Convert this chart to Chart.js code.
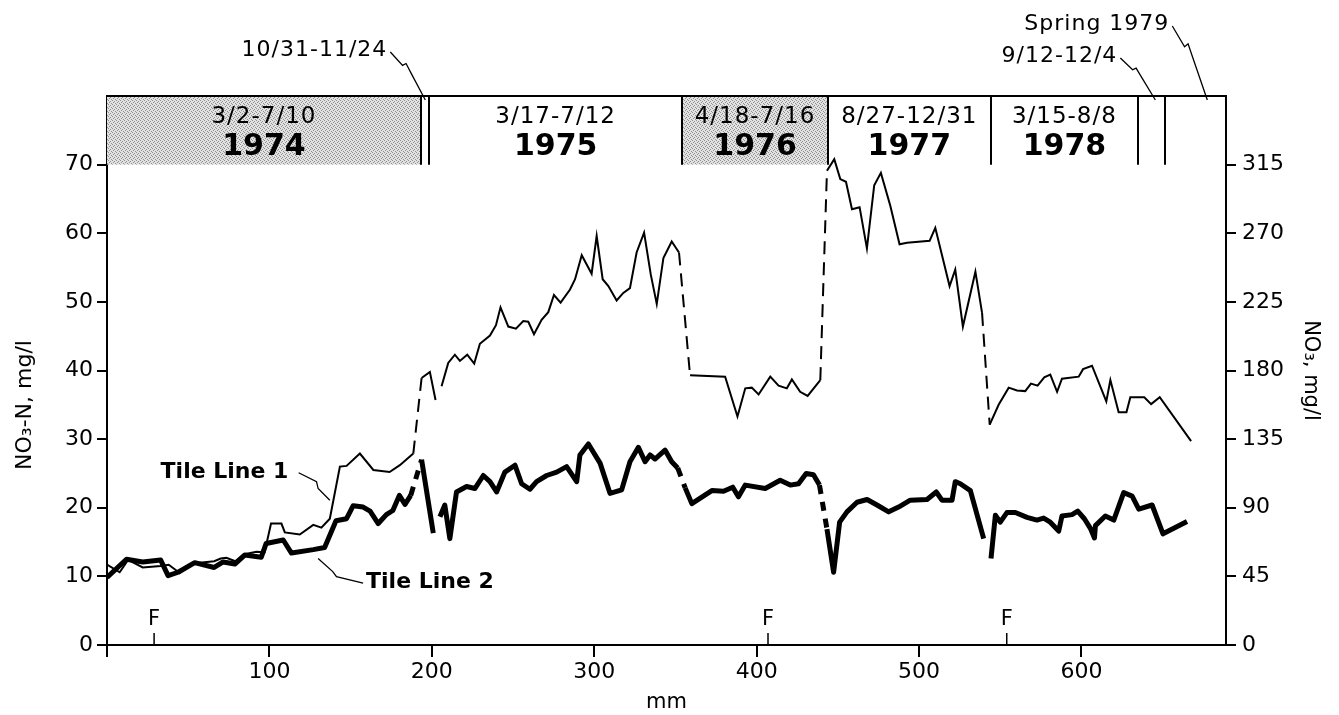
<!DOCTYPE html>
<html>
<head>
<meta charset="utf-8">
<script src="https://cdn.jsdelivr.net/npm/chart.js@4.4.1/dist/chart.umd.min.js"></script>
<style>
html, body { margin: 0; padding: 0; background: #fff; }
#wrap { width: 1339px; height: 715px; position: relative; }
</style>
</head>
<body>
<div id="wrap"><canvas id="canvas"></canvas></div>
<script>
// cumulative drainage (mm) and NO3-N (mg/l); null = break in the line
const line1Mm = [0, 7.8, 13, 22, 33, 38, 44.8, 51, 57, 66, 70, 73.5, 79, 84, 92, 97, 101, 107.4, 109.5, 118.7,
  127, 132, 137.2, 143.4, 147.5, 155.7, 164, 174, 180.3, 188.6, 193.7, 198.8, 202.3, 204, 206, 210.1, 214.2,
  217.3, 221.8, 226.1, 229.6, 235.8, 239.5, 242.3, 247.1, 251.8, 256.3, 259.4, 262.9, 267.6, 271.7, 275.2,
  279.3, 285.1, 288.2, 292.3, 298.4, 301.5, 305.2, 308.7, 313.8, 317.9, 322, 326.1, 330.7, 334.8, 338.5,
  342.6, 347.7, 352.2, 359, 380.6, 388.2, 393, 397, 401.2, 408.4, 413.5, 418.6, 421.7, 426.8, 431.4, 439.2,
  443.3, 447.8, 451.5, 455, 458.7, 463.4, 467.9, 472.4, 476.5, 482.3, 488, 492.6, 506.5, 510, 518.8, 522.3,
  527, 534.7, 538.8, 543.5, 549, 555.2, 560.3, 565.4, 568.9, 573, 577.1, 580.8, 585, 588, 598.3, 601, 606.5,
  615.3, 617.8, 622.9, 627.7, 630.1, 638.7, 642.9, 648.2, 667.5]
const line1N = [11.7, 10.6, 12.4, 11.3, 11.5, 11.7, 10.5, 11.7, 12.0, 12.2, 12.6, 12.7, 12.2, 13.2, 13.6, 13.5,
  17.7, 17.7, 16.4, 16.1, 17.5, 17.1, 18.4, 26.0, 26.1, 27.9, 25.5, 25.2, 26.2, 27.9, 38.9, 39.8, 35.7, null,
  37.7, 41.1, 42.3, 41.4, 42.3, 41.0, 43.9, 45.1, 46.6, 49.2, 46.4, 46.1, 47.2, 47.1, 45.3, 47.4, 48.5, 51.0,
  49.9, 51.8, 53.3, 56.8, 54.1, 59.6, 53.3, 52.3, 50.2, 51.3, 52.0, 57.2, 60.1, 54.0, 49.7, 56.4, 58.8, 57.2,
  39.3, 39.1, 33.3, 37.4, 37.5, 36.5, 39.1, 37.8, 37.4, 38.7, 36.9, 36.3, 38.6, 69.1, 70.8, 67.9, 67.5, 63.5,
  63.8, 57.8, 67.0, 68.8, 64.0, 58.4, 58.6, 58.9, 60.8, 52.3, 54.7, 46.4, 54.4, 48.4, 32.1, 35.0, 37.5, 37.1,
  37.0, 38.1, 37.8, 39.0, 39.4, 36.9, 38.8, 39.1, 40.2, 40.7, 35.5, 38.6, 33.9, 33.9, 36.1, 36.1, 35.1, 36.1,
  29.7]
const line2Mm = [0, 12, 22, 33, 37.6, 43.8, 54, 66, 71.5, 78.7, 84.8, 95, 98, 108.5, 113.6, 127, 134, 141, 147.5,
  151.6, 157.7, 162, 167, 172, 176, 180, 183.5, 187, 193.7, 200.9, 203, 205, 208, 211.1, 215.2, 221.4, 226.5,
  231.7, 235.8, 239.9, 245, 251.2, 255.3, 260.4, 264.5, 270.7, 276.9, 283, 289.2, 291.2, 296.4, 303.6, 309.7,
  316.9, 322, 327.2, 331.3, 334.4, 337.4, 343.6, 347.7, 351.4, 356, 360.1, 372.4, 379.6, 385.3, 388.8, 393,
  405.3, 414.5, 420.7, 425.8, 430.5, 435, 438.7, 443.3, 447.4, 451.1, 455.6, 461.8, 468, 474.1, 481.3, 487.4,
  494.6, 504.9, 510.6, 514.1, 520.3, 522.3, 525.4, 531.6, 539.8, 542, 544.3, 547, 550, 554.1, 559.3, 566.5,
  572.6, 576.7, 580.8, 586, 588, 594.2, 597.7, 601.8, 605.5, 608, 608.6, 614.7, 619.9, 626, 631.2, 635.3,
  643.5, 650.2, 665]
const line2N = [9.85, 12.5, 12.1, 12.4, 10.1, 10.6, 12.0, 11.3, 12.1, 11.8, 13.1, 12.8, 14.8, 15.3, 13.4, 13.9,
  14.2, 18.1, 18.4, 20.3, 20.1, 19.5, 17.7, 19.0, 19.6, 21.8, 20.5, 21.8, 27.0, 16.3, null, 18.7, 20.4, 15.5,
  22.3, 23.1, 22.8, 24.7, 23.8, 22.3, 25.2, 26.2, 23.5, 22.7, 23.8, 24.7, 25.2, 26.0, 23.8, 27.7, 29.3, 26.5,
  22.1, 22.6, 26.7, 28.8, 26.7, 27.7, 27.1, 28.4, 26.7, 25.8, 22.9, 20.6, 22.5, 22.4, 23.0, 21.6, 23.3, 22.8,
  24.0, 23.3, 23.5, 25.0, 24.8, 23.3, 16.9, 10.6, 17.9, 19.4, 20.8, 21.2, 20.4, 19.4, 20.1, 21.1, 21.2, 22.3,
  21.1, 21.1, 23.8, 23.5, 22.5, 15.5, null, 12.6, 18.9, 17.9, 19.3, 19.3, 18.6, 18.2, 18.5, 17.9, 16.6, 18.8,
  19.0, 19.5, 18.4, 17.0, 15.6, 17.4, 18.8, 18.2, 22.2, 21.7, 19.8, 20.4, 16.2, 18.0]
// segments that start at these mm values are drawn dashed
const line1DashFrom = [188.6, 352.2, 439.2, 538.8]
const line2DashFrom = [187, 351.4, 438.7]

// sampling periods shown in the top band
const periodStart = [0, 198.5, 354, 444, 544]
const periodEnd = [193.3, 354, 444, 544, 635]
const periodDates = ['3/2-7/10', '3/17-7/12', '4/18-7/16', '8/27-12/31', '3/15-8/8']
const periodYears = ['1974', '1975', '1976', '1977', '1978']
const periodShaded = [true, false, true, false, false]
const periodEdges = [193.3, 198.5, 354, 444, 544, 635, 651.5]
const fMarks = [29, 407, 554]

const xTicks = [0, 100, 200, 300, 400, 500, 600]
const leftTicks = [0, 10, 20, 30, 40, 50, 60, 70]
const rightTicks = [0, 45, 90, 135, 180, 225, 270, 315]

const toPoints = (mm, v) => mm.map((x, i) => ({x: x, y: v[i]}))
const dashed = (starts, pattern) => ctx => starts.includes(ctx.p0.parsed.x) ? pattern : undefined

Chart.defaults.font.family = "'DejaVu Sans', sans-serif"
Chart.defaults.color = '#000'

function stipple(ctx) {
  const c = document.createElement('canvas')
  c.width = 4
  c.height = 4
  const g = c.getContext('2d')
  g.fillStyle = '#e2e2e2'
  g.fillRect(0, 0, 4, 4)
  g.fillStyle = '#909090'
  g.fillRect(0, 0, 1, 1)
  g.fillRect(2, 1, 1, 1)
  g.fillRect(1, 2, 1, 1)
  g.fillRect(3, 3, 1, 1)
  return ctx.createPattern(c, 'repeat')
}

function leader(ctx, x0, y0, x1, y1) {
  const dx = x1 - x0, dy = y1 - y0
  const pts = [[0, 0], [0.35, 0.28], [0.45, 0.24], [0.6, 0.45], [1, 1]]
  ctx.beginPath()
  pts.forEach((p, i) => {
    const px = x0 + p[0] * dx, py = y0 + p[1] * dy
    if (i === 0) ctx.moveTo(px, py); else ctx.lineTo(px, py)
  })
  ctx.stroke()
}

const bandPlugin = {
  id: 'band',
  beforeDatasetsDraw(chart) {
    const ctx = chart.ctx
    const xs = chart.scales.x, ys = chart.scales.y
    const yTop = ys.getPixelForValue(80), yBot = ys.getPixelForValue(70)
    ctx.save()
    const pat = stipple(ctx)
    periodStart.forEach((s, i) => {
      if (!periodShaded[i]) return
      const a = xs.getPixelForValue(s), b = xs.getPixelForValue(periodEnd[i])
      ctx.fillStyle = pat
      ctx.fillRect(a, yTop, b - a, yBot - yTop)
    })
    ctx.strokeStyle = '#000'
    ctx.lineWidth = 2
    ctx.beginPath()
    ctx.moveTo(xs.getPixelForValue(0), yTop)
    ctx.lineTo(xs.getPixelForValue(689), yTop)
    periodEdges.forEach(e => {
      const x = Math.round(xs.getPixelForValue(e))
      ctx.moveTo(x, yTop)
      ctx.lineTo(x, yBot)
    })
    ctx.stroke()
    ctx.fillStyle = '#000'
    ctx.textAlign = 'center'
    ctx.textBaseline = 'middle'
    periodStart.forEach((s, i) => {
      const cx = (xs.getPixelForValue(s) + xs.getPixelForValue(periodEnd[i])) / 2
      ctx.font = "23px 'DejaVu Sans'"
      ctx.letterSpacing = '1px'
      ctx.fillText(periodDates[i], cx, ys.getPixelForValue(77))
      ctx.font = "bold 30px 'DejaVu Sans'"
      ctx.letterSpacing = '0px'
      ctx.fillText(periodYears[i], cx, ys.getPixelForValue(72.5))
    })
    ctx.restore()
  },
  afterDatasetsDraw(chart) {
    const ctx = chart.ctx
    const xs = chart.scales.x, ys = chart.scales.y
    ctx.save()
    ctx.strokeStyle = '#000'
    ctx.fillStyle = '#000'
    // F marks on the x axis
    ctx.lineWidth = 1.5
    ctx.font = "21px 'DejaVu Sans'"
    ctx.textAlign = 'center'
    ctx.textBaseline = 'alphabetic'
    const y0 = ys.getPixelForValue(0)
    fMarks.forEach(m => {
      const x = xs.getPixelForValue(m)
      ctx.beginPath()
      ctx.moveTo(x, y0)
      ctx.lineTo(x, y0 - 12)
      ctx.stroke()
      ctx.fillText('F', x, y0 - 20)
    })
    // left axis title, sits a bit below the middle in the original
    ctx.save()
    ctx.translate(25, 405)
    ctx.rotate(-Math.PI / 2)
    ctx.textAlign = 'center'
    ctx.textBaseline = 'middle'
    ctx.font = "22px 'DejaVu Sans'"
    ctx.fillText('NO\u2083-N, mg/l', 0, 0)
    ctx.restore()
    // period notes above the band
    const yTop = ys.getPixelForValue(80)
    ctx.font = "22px 'DejaVu Sans'"
    ctx.letterSpacing = '1px'
    ctx.textAlign = 'right'
    ctx.textBaseline = 'middle'
    ctx.lineWidth = 1.3
    const notes = [['10/31-11/24', 196, 50], ['9/12-12/4', 645.5, 56], ['Spring 1979', 677.5, 24]]
    notes.forEach(n => {
      const tip = xs.getPixelForValue(n[1])
      const tx = tip - 38
      ctx.fillText(n[0], tx, n[2])
      leader(ctx, tx + 3, n[2] + 2, tip, yTop + 4)
    })
    ctx.letterSpacing = '0px'
    // line labels
    ctx.font = "bold 22px 'DejaVu Sans'"
    ctx.textAlign = 'left'
    ctx.fillText('Tile Line 1', xs.getPixelForValue(33), ys.getPixelForValue(25.1))
    ctx.fillText('Tile Line 2', xs.getPixelForValue(159.5), ys.getPixelForValue(9.2))
    const path = pts => {
      ctx.beginPath()
      pts.forEach((p, i) => {
        const px = xs.getPixelForValue(p[0]), py = ys.getPixelForValue(p[1])
        if (i === 0) ctx.moveTo(px, py); else ctx.lineTo(px, py)
      })
      ctx.stroke()
    }
    path([[118, 25.1], [129, 23.8], [130, 22.8], [137.2, 21.1]])
    path([[130, 12.6], [139, 10.7], [141.3, 9.95], [157.7, 9.0]])
    ctx.restore()
  }
}

const axisGrid = {drawOnChartArea: false, drawTicks: true, tickLength: 10, color: '#000', lineWidth: 2}
const axisBorder = {display: true, color: '#000', width: 2}

const config = {
  type: 'scatter',
  data: {
    datasets: [
      {
        label: 'Tile Line 1',
        data: toPoints(line1Mm, line1N),
        showLine: true,
        borderColor: '#000',
        borderWidth: 2,
        pointRadius: 0,
        spanGaps: false,
        segment: {borderDash: dashed(line1DashFrom, [13, 8])}
      },
      {
        label: 'Tile Line 2',
        data: toPoints(line2Mm, line2N),
        showLine: true,
        borderColor: '#000',
        borderWidth: 5,
        borderJoinStyle: 'round',
        pointRadius: 0,
        spanGaps: false,
        segment: {borderDash: dashed(line2DashFrom, [9, 8])}
      }
    ]
  },
  options: {
    responsive: true,
    maintainAspectRatio: false,
    animation: false,
    layout: {padding: {top: 96, left: 0, right: 0, bottom: 0}},
    plugins: {legend: {display: false}, tooltip: {enabled: false}},
    scales: {
      x: {
        type: 'linear', min: 0, max: 689,
        afterFit: s => { s.height = 70 },
        afterBuildTicks: s => { s.ticks = xTicks.map(v => ({value: v})) },
        grid: Object.assign({}, axisGrid, {tickLength: 12}),
        border: axisBorder,
        ticks: {font: {size: 22}, color: '#000', padding: 2, maxRotation: 0,
          callback: v => v === 0 ? '' : v},
        title: {display: true, text: 'mm', font: {size: 21}, color: '#000', padding: {top: 4, bottom: 0}}
      },
      y: {
        type: 'linear', position: 'left', min: 0, max: 80,
        afterFit: s => { s.width = 107 },
        afterBuildTicks: s => { s.ticks = leftTicks.map(v => ({value: v})) },
        grid: axisGrid,
        border: axisBorder,
        ticks: {font: {size: 22}, color: '#000', padding: 4}
      },
      y2: {
        type: 'linear', position: 'right', min: 0, max: 360,
        afterFit: s => { s.width = 113 },
        afterBuildTicks: s => { s.ticks = rightTicks.map(v => ({value: v})) },
        grid: axisGrid,
        border: axisBorder,
        ticks: {font: {size: 22}, color: '#000', padding: 6},
        title: {display: true, text: 'NO\u2083, mg/l', font: {size: 21}, color: '#000', padding: {top: 16, bottom: 0}}
      }
    }
  },
  plugins: [bandPlugin]
}

const canvas = document.getElementById('canvas')
const chart = new Chart(canvas, config)
</script>
</body>
</html>
